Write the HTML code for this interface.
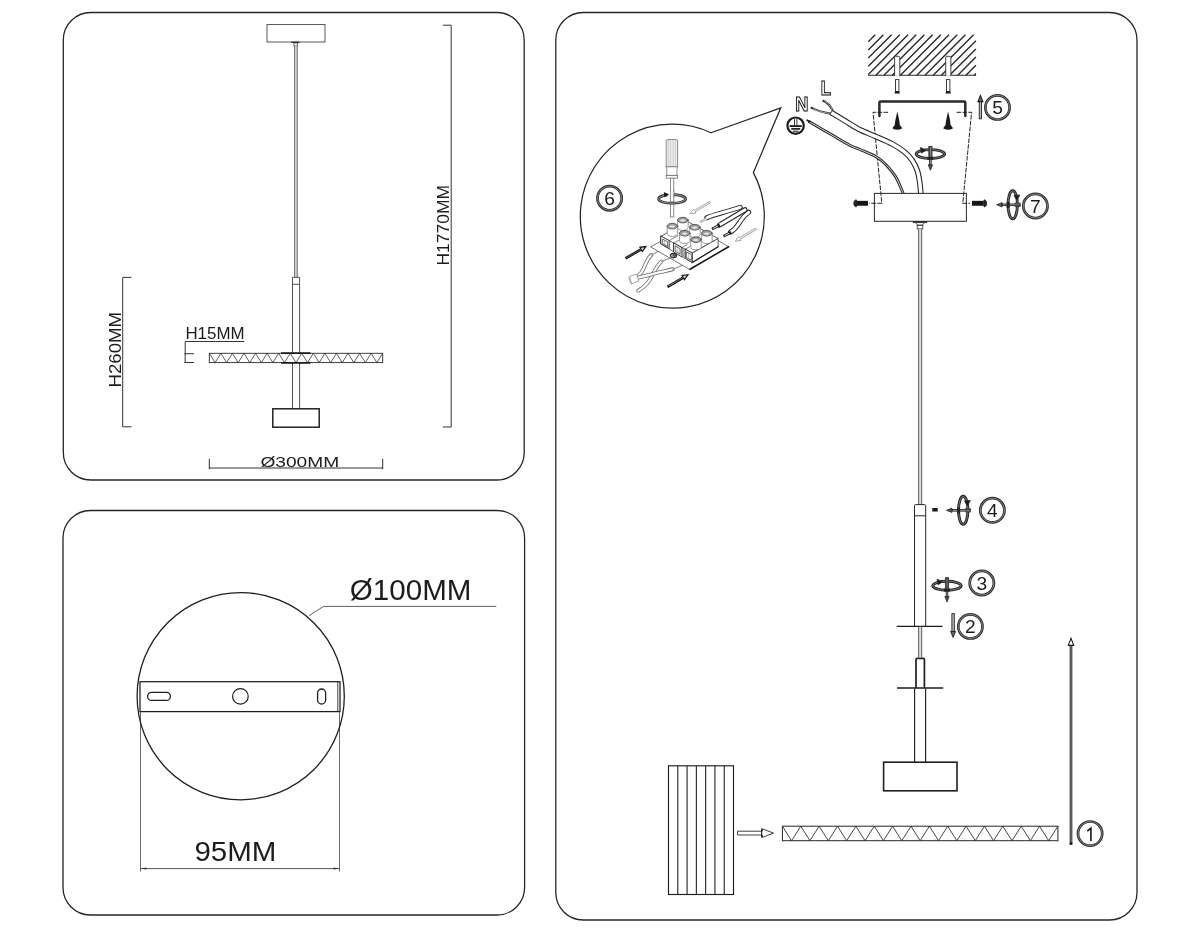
<!DOCTYPE html>
<html><head><meta charset="utf-8"><title>Installation diagram</title>
<style>
html,body{margin:0;padding:0;background:#fff;overflow:hidden}
svg{display:block;filter:grayscale(1)}
text{font-family:"Liberation Sans",sans-serif;fill:#1c1c1c}
</style></head>
<body>
<svg width="1200" height="933" viewBox="0 0 1200 933">
<rect width="1200" height="933" fill="#fff"/>
<g fill="none" stroke="#262626" stroke-width="1.3">
<rect x="63.3" y="12.5" width="460.9" height="467.5" rx="27.5" ry="27.5"/>
<rect x="63" y="510.5" width="461.6" height="404.5" rx="27.5" ry="27.5"/>
<rect x="555.8" y="12.5" width="581.2" height="907.5" rx="27.5" ry="27.5"/>
</g>
<g id="lt" fill="none" stroke="#2a2a2a" stroke-width="0.95">
<rect x="267" y="24.6" width="58" height="17.4" stroke="#3a3a3a" stroke-width="0.85"/>
<path d="M291.3 42.3H299.7" stroke="#222" stroke-width="1.2"/>
<rect x="293.9" y="43" width="3.4" height="3" stroke-width="0.7"/>
<rect x="294.7" y="46" width="2.5" height="231.3" fill="#e6e6e6" stroke="none"/><path d="M294.7 46V277.3M297.2 46V277.3" stroke="#444" stroke-width="0.85"/>
<path d="M292.5 277.3H299.6V408.8M292.5 277.3V408.8M292.5 284.3H299.6" stroke="#333" stroke-width="0.85"/>
<rect x="209.3" y="353.3" width="173.4" height="9.3" fill="#fff" stroke-width="0.9"/>
<path d="M209.3 353.3 L215.08 362.6 L220.86 353.3 L226.64 362.6 L232.42 353.3 L238.2 362.6 L243.98 353.3 L249.76 362.6 L255.54 353.3 L261.32 362.6 L267.1 353.3 L272.88 362.6 L278.66 353.3 L284.44 362.6 L290.22 353.3 L296 362.6 L301.78 353.3 L307.56 362.6 L313.34 353.3 L319.12 362.6 L324.9 353.3 L330.68 362.6 L336.46 353.3 L342.24 362.6 L348.02 353.3 L353.8 362.6 L359.58 353.3 L365.36 362.6 L371.14 353.3 L376.92 362.6 L382.7 353.3" stroke-width="0.75"/>
<path d="M281 353.1H310.5M281 362.9H310.5" stroke="#1c1c1c" stroke-width="1.7"/>
<rect x="272.8" y="408.8" width="46.4" height="18.4" stroke="#222" stroke-width="1.5"/>
<path d="M442.9 25.2H451.2V427H442.9" stroke="#333" stroke-width="1"/>
<path d="M131.4 277.4H122.7V426.8H131.4" stroke="#333" stroke-width="1"/>
<path d="M244.4 341.5H185.2V362.5M184.3 353.7H194M184.3 362.5H194" stroke="#333" stroke-width="1"/>
<path d="M209.3 458.7V469.3M382.7 458.7V469.3M209.3 468H382.7" stroke="#333" stroke-width="1"/>
</g>
<text x="260.4" y="466.7" font-size="15.4" textLength="78.8" lengthAdjust="spacingAndGlyphs">Ø300MM</text>
<text x="185.4" y="338.8" font-size="15.8" textLength="59.2" lengthAdjust="spacingAndGlyphs">H15MM</text>
<text transform="translate(121.4 387.4) rotate(-90)" font-size="16.6" textLength="75.4" lengthAdjust="spacingAndGlyphs">H260MM</text>
<text transform="translate(448.6 265.6) rotate(-90)" font-size="16.2" textLength="80.6" lengthAdjust="spacingAndGlyphs">H1770MM</text>
<g id="lb" fill="none" stroke="#2e2e2e" stroke-width="0.9">
<path d="M140.5 711.6V871.4M339.5 711.6V871.4" stroke="#444" stroke-width="0.8"/>
<circle cx="240.7" cy="696.2" r="103.6" stroke="#1f1f1f" stroke-width="1.3"/>
<rect x="140" y="681.7" width="200" height="29.9" fill="none" stroke="#1f1f1f" stroke-width="1.25"/>
<path d="M337.8 681.7V711.6" stroke-width="0.9"/>
<rect x="147.6" y="692.4" width="22.8" height="8" rx="4" ry="4" stroke="#1f1f1f" stroke-width="1.3"/>
<circle cx="240.4" cy="696.4" r="7.8" stroke="#1f1f1f" stroke-width="1.2"/>
<rect x="317.6" y="689" width="8" height="15" rx="4" ry="4" stroke="#1f1f1f" stroke-width="1.3"/>
<path d="M308.8 615.8L323.6 606.4H496.3" stroke="#444" stroke-width="0.85"/>
<path d="M141 868.6H339" stroke="#3a3a3a" stroke-width="0.85"/>
<path d="M140.8 868.6L146.5 867.6V869.6ZM339.2 868.6L333.5 867.6V869.6Z" fill="#333" stroke="none"/>
</g>
<text x="349.8" y="599.8" font-size="28.6" textLength="121.6" lengthAdjust="spacingAndGlyphs">Ø100MM</text>
<text x="194.4" y="861.3" font-size="28.4" textLength="82" lengthAdjust="spacingAndGlyphs">95MM</text>
<g id="rt" fill="none" stroke="#2e2e2e" stroke-width="0.9" stroke-linecap="butt">
<path d="M875.2 34.8L868.3 41.7M883.4 34.8L868.3 49.9M891.6 34.8L868.3 58.1M899.8 34.8L868.3 66.3M908 34.8L868.3 74.5M916.2 34.8L875.8 75.2M924.4 34.8L884 75.2M932.6 34.8L892.2 75.2M940.8 34.8L900.4 75.2M949 34.8L908.6 75.2M957.2 34.8L916.8 75.2M965.4 34.8L925 75.2M973.6 34.8L933.2 75.2M975.9 40.7L941.4 75.2M975.9 48.9L949.6 75.2M975.9 57.1L957.8 75.2M975.9 65.3L966 75.2M975.9 73.5L974.2 75.2" stroke="#262626" stroke-width="1.35"/>
<path d="M868 75.2H976" stroke="#262626" stroke-width="1.1"/>
<path d="M894.6 75.8V57.6Q894.6 56.3 895.6 56.3H898.8Q899.8 56.3 899.8 57.6V75.8Z" fill="#fff" stroke="#2a2a2a" stroke-width="0.9"/>
<path d="M895.1 76H899.3" stroke="#fff" stroke-width="1.6"/>
<path d="M945.7 75.8V57.6Q945.7 56.3 946.7 56.3H949.9Q950.9 56.3 950.9 57.6V75.8Z" fill="#fff" stroke="#2a2a2a" stroke-width="0.9"/>
<path d="M946.2 76H950.4" stroke="#fff" stroke-width="1.6"/>
<rect x="895.5" y="79.6" width="3.4" height="12" fill="#fff" stroke="#2a2a2a" stroke-width="0.9"/>
<path d="M895.2 91.2H899.2L900 93.6H894.4Z" fill="#1a1a1a" stroke="none"/>
<rect x="946.5" y="79.6" width="3.4" height="12" fill="#fff" stroke="#2a2a2a" stroke-width="0.9"/>
<path d="M946.2 91.2H950.2L951 93.6H945.4Z" fill="#1a1a1a" stroke="none"/>
<path d="M879.4 116V102.6Q879.4 101.5 880.5 101.5H964.2Q965.3 101.5 965.3 102.6V116" stroke="#2a2a2a" stroke-width="2.5" stroke-linecap="round"/>
<path d="M888 112.3H873L881.8 203.2" stroke="#222" stroke-width="1" stroke-dasharray="4.6 1.3"/>
<path d="M956.6 112.3H971.6L962.8 203.2" stroke="#222" stroke-width="1" stroke-dasharray="4.6 1.3"/>
<path d="M897.3 111.6C896.4 116.1 895 120.6 894.8 124.92L892.3 128.2Q897.3 131.4 902.3 128.2L899.8 124.92C899.6 120.6 898.2 116.1 897.3 111.6Z" fill="#1a1a1a" stroke="none"/>
<path d="M948.1 111.6C947.2 116.1 945.8 120.6 945.6 124.92L943.1 128.2Q948.1 131.4 953.1 128.2L950.6 124.92C950.4 120.6 949 116.1 948.1 111.6Z" fill="#1a1a1a" stroke="none"/>
<path d="M808.6 121.3C812.17 123.38 823.15 129.82 830 133.8C836.85 137.78 844.7 142.58 849.7 145.2C854.7 147.82 855.6 147.57 860 149.5C864.4 151.43 871.68 154.18 876.1 156.8C880.52 159.42 883.28 161.93 886.5 165.2C889.72 168.47 893.12 172.92 895.4 176.4C897.68 179.88 898.92 183.28 900.2 186.1C901.48 188.92 902.62 192.1 903.1 193.3" stroke="#262626" stroke-width="2.9"/>
<path d="M808.6 121.3C812.17 123.38 823.15 129.82 830 133.8C836.85 137.78 844.7 142.58 849.7 145.2C854.7 147.82 855.6 147.57 860 149.5C864.4 151.43 871.68 154.18 876.1 156.8C880.52 159.42 883.28 161.93 886.5 165.2C889.72 168.47 893.12 172.92 895.4 176.4C897.68 179.88 898.92 183.28 900.2 186.1C901.48 188.92 902.62 192.1 903.1 193.3" stroke="#efefef" stroke-width="0.9"/>
<path d="M806.6 119.8L810 122" stroke="#1a1a1a" stroke-width="1.6"/>
<path d="M831.2 112.5C833.6 113.95 840.8 118.32 845.6 121.2C850.4 124.08 854.92 127.23 860 129.8C865.08 132.37 870.73 134.25 876.1 136.6C881.47 138.95 887.38 141.28 892.2 143.9C897.02 146.52 901.65 149.55 905 152.3C908.35 155.05 910.28 157.45 912.3 160.4C914.32 163.35 915.88 166.52 917.1 170C918.32 173.48 918.98 177.42 919.6 181.3C920.22 185.18 920.6 191.3 920.8 193.3" stroke="#222" stroke-width="5.6"/>
<path d="M831.2 112.5C833.6 113.95 840.8 118.32 845.6 121.2C850.4 124.08 854.92 127.23 860 129.8C865.08 132.37 870.73 134.25 876.1 136.6C881.47 138.95 887.38 141.28 892.2 143.9C897.02 146.52 901.65 149.55 905 152.3C908.35 155.05 910.28 157.45 912.3 160.4C914.32 163.35 915.88 166.52 917.1 170C918.32 173.48 918.98 177.42 919.6 181.3C920.22 185.18 920.6 191.3 920.8 193.3" stroke="#fff" stroke-width="3.5"/>
<path d="M832.6 110.4C830.5 106 828.5 103 822.6 100.6" stroke="#2a2a2a" stroke-width="2.2"/>
<path d="M832.6 110.4C830.5 106 828.5 103 824.6 101.4" stroke="#ddd" stroke-width="0.7"/>
<path d="M830.6 113.6C824 112.6 818 111.5 810.8 107.4" stroke="#2a2a2a" stroke-width="2.2"/>
<path d="M830.6 113.6C824 112.6 818 111.5 813 108.6" stroke="#ddd" stroke-width="0.7"/>
<path d="M829.6 114.4L833.2 109.6" stroke="#2a2a2a" stroke-width="0.9"/>
<ellipse cx="930.4" cy="154" rx="14.2" ry="4.4" fill="none" stroke="#222" stroke-width="2.9"/><ellipse cx="930.4" cy="154" rx="14.2" ry="4.4" fill="none" stroke="#b4b4b4" stroke-width="0.6"/><rect x="928.8" y="146.6" width="3.2" height="9.6" fill="#fff"/><path d="M925.7 150.3L920.5 147.5L921.5 153.1Z" fill="#1a1a1a"/><rect x="929.55" y="146.6" width="1.7" height="18.2" fill="#999" stroke="#222" stroke-width="0.8"/><path d="M927.4 158.2A14.2 4.4 0 0 0 933.4 158.2" fill="none" stroke="#222" stroke-width="2.9"/><path d="M928.2 164.8H932.6L930.4 170.3Z" fill="#555" stroke="#1a1a1a" stroke-width="0.7"/>
<rect x="874.4" y="193.4" width="92" height="27.9" fill="none" stroke="#303030" stroke-width="1.05"/>
<path d="M882.4 203.3H869.4M962.2 203.3H970" stroke="#222" stroke-width="1.1" stroke-dasharray="5 1.2"/>
<path d="M856.4 203.3H868" stroke="#161616" stroke-width="4.9"/>
<path d="M853.9 203.3C853.9 200.6 855 199.9 856.4 199.9V206.8C855 206.8 853.9 206 853.9 203.3Z" fill="#2a2a2a" stroke="#161616" stroke-width="0.9"/>
<path d="M972 203.3H983.8" stroke="#161616" stroke-width="4.9"/>
<path d="M986.5 203.3C986.5 200.6 985.4 199.9 984 199.9V206.8C985.4 206.8 986.5 206 986.5 203.3Z" fill="#2a2a2a" stroke="#161616" stroke-width="0.9"/>
<path d="M912.8 222.1H927.2" stroke="#1a1a1a" stroke-width="1.5"/>
<path d="M915.2 222.6C916.6 223 917 224 917.2 225.2H922.8C923 224 923.4 223 924.8 222.6" stroke-width="0.8"/>
<rect x="917.2" y="225.2" width="5.6" height="3.6" stroke-width="0.8"/>
<rect x="918.6" y="228.8" width="3.1" height="275.8" fill="#dcdcdc" stroke="none"/>
<path d="M918.6 228.8V504.6M921.7 228.8V504.6" stroke="#3a3a3a" stroke-width="0.8"/>
<path d="M914.5 626.2V505.6Q914.5 504.6 915.5 504.6H924.7Q925.7 504.6 925.7 505.6V626.2M914.5 515.8H925.7" stroke="#262626" stroke-width="1"/>
<rect x="932.3" y="508" width="5.4" height="3.5" fill="#1a1a1a" stroke="none"/>
<path d="M896.7 626.3H942.5" stroke="#1c1c1c" stroke-width="1.35"/>
<rect x="918.6" y="626.8" width="3.1" height="30" fill="#dcdcdc" stroke="none"/>
<path d="M918.6 626.8V657M921.7 626.8V657" stroke="#3a3a3a" stroke-width="0.8"/>
<path d="M916 688V659.6Q916 658.4 917.2 658.4H923.2Q924.4 658.4 924.4 659.6V688" stroke="#1f1f1f" stroke-width="1.7"/>
<path d="M897 688.1H943.2" stroke="#1c1c1c" stroke-width="1.5"/>
<path d="M914.6 688.5V762M925.6 688.5V762" stroke="#222" stroke-width="1.15"/>
<rect x="883.6" y="762.2" width="73.4" height="28.6" stroke="#1f1f1f" stroke-width="1.6"/>
<rect x="782.4" y="826.2" width="275.5" height="14.5" stroke="#262626" stroke-width="1"/>
<path d="M782.4 826.2 L791.58 840.7 L800.77 826.2 L809.95 840.7 L819.13 826.2 L828.32 840.7 L837.5 826.2 L846.68 840.7 L855.87 826.2 L865.05 840.7 L874.23 826.2 L883.42 840.7 L892.6 826.2 L901.78 840.7 L910.97 826.2 L920.15 840.7 L929.33 826.2 L938.52 840.7 L947.7 826.2 L956.88 840.7 L966.07 826.2 L975.25 840.7 L984.43 826.2 L993.62 840.7 L1002.8 826.2 L1011.98 840.7 L1021.17 826.2 L1030.35 840.7 L1039.53 826.2 L1048.72 840.7 L1057.9 826.2" stroke="#262626" stroke-width="0.85"/>
<rect x="668.5" y="765.8" width="65" height="128.7" stroke="#1f1f1f" stroke-width="1.15"/>
<path d="M677.79 765.8V894.5M687.07 765.8V894.5M696.36 765.8V894.5M705.64 765.8V894.5M714.93 765.8V894.5M724.22 765.8V894.5" stroke="#222" stroke-width="1.1"/>
<path d="M737.6 831.2H762.4V828.9L773.6 833.1L762.4 837.3V835H737.6Z" fill="#fff" stroke="#2a2a2a" stroke-width="0.9" stroke-linejoin="miter"/>
<path d="M761.6 828.4V837.8" stroke="#2a2a2a" stroke-width="1.2"/>
<path d="M1071 844.2V645" stroke="#4a4a4a" stroke-width="2.8"/>
<path d="M1071 843V645" stroke="#777" stroke-width="0.8"/>
<circle cx="1071" cy="843.6" r="1.5" fill="#1f1f1f" stroke="none"/>
<path d="M1071 638.4L1068.3 645.4H1073.7Z" fill="#fff" stroke="#1a1a1a" stroke-width="1.1" stroke-linejoin="miter"/>
<rect x="979.25" y="101.5" width="2.3" height="17.3" fill="#bbb" stroke="#1f1f1f" stroke-width="0.9"/><path d="M980.4 95.6L978 101.6H982.8Z" fill="#777" stroke="#1a1a1a" stroke-width="1.2" stroke-linejoin="miter"/>
<rect x="951.9" y="613.6" width="2.4" height="17.8" fill="#bbb" stroke="#1f1f1f" stroke-width="0.9"/><path d="M953.1 637.4L950.6 631.4H955.6Z" fill="#666" stroke="#1f1f1f" stroke-width="0.9"/>
<ellipse cx="1012.7" cy="204.8" rx="4.7" ry="14" fill="none" stroke="#222" stroke-width="2.9"/><ellipse cx="1012.7" cy="204.8" rx="4.7" ry="14" fill="none" stroke="#b4b4b4" stroke-width="0.6"/><rect x="1015.2" y="203.2" width="4.8" height="3.2" fill="#fff"/><path d="M1017 200.2L1014 195.6L1019.8 195Z" fill="#1a1a1a"/><rect x="1002.1" y="203.95" width="17.9" height="1.7" fill="#999" stroke="#222" stroke-width="0.8"/><path d="M1008.2 201.8A4.7 14 0 0 0 1008.2 207.8" fill="none" stroke="#222" stroke-width="2.9"/><path d="M1002.1 202.6V207L996.6 204.8Z" fill="#555" stroke="#1a1a1a" stroke-width="0.7"/>
<ellipse cx="963.2" cy="510.3" rx="4.7" ry="14" fill="none" stroke="#222" stroke-width="2.9"/><ellipse cx="963.2" cy="510.3" rx="4.7" ry="14" fill="none" stroke="#b4b4b4" stroke-width="0.6"/><rect x="965.7" y="508.7" width="4.5" height="3.2" fill="#fff"/><path d="M967.5 505.7L964.5 501.1L970.3 500.5Z" fill="#1a1a1a"/><rect x="952" y="509.45" width="18.2" height="1.7" fill="#999" stroke="#222" stroke-width="0.8"/><path d="M958.7 507.3A4.7 14 0 0 0 958.7 513.3" fill="none" stroke="#222" stroke-width="2.9"/><path d="M952 508.1V512.5L946.5 510.3Z" fill="#555" stroke="#1a1a1a" stroke-width="0.7"/>
<ellipse cx="947" cy="585.7" rx="14.2" ry="4.5" fill="none" stroke="#222" stroke-width="2.9"/><ellipse cx="947" cy="585.7" rx="14.2" ry="4.5" fill="none" stroke="#b4b4b4" stroke-width="0.6"/><rect x="945.4" y="577.9" width="3.2" height="10.1" fill="#fff"/><path d="M942.3 581.9L937.1 579.1L938.1 584.7Z" fill="#1a1a1a"/><rect x="946.15" y="577.9" width="1.7" height="18.6" fill="#999" stroke="#222" stroke-width="0.8"/><path d="M944 590A14.2 4.5 0 0 0 950 590" fill="none" stroke="#222" stroke-width="2.9"/><path d="M944.8 596.5H949.2L947 602Z" fill="#555" stroke="#1a1a1a" stroke-width="0.7"/>
</g>
<g><circle cx="997.5" cy="107.4" r="12.1" fill="#fff" stroke="#2a2a2a" stroke-width="2.7"/><circle cx="997.5" cy="107.4" r="12.1" fill="none" stroke="#aaa" stroke-width="0.7"/><text x="997.5" y="114.37" font-size="18.8" text-anchor="middle" textLength="10.7" lengthAdjust="spacingAndGlyphs">5</text></g>

<g><circle cx="1035.4" cy="206" r="12.1" fill="#fff" stroke="#2a2a2a" stroke-width="2.7"/><circle cx="1035.4" cy="206" r="12.1" fill="none" stroke="#aaa" stroke-width="0.7"/><text x="1035.4" y="212.97" font-size="18.8" text-anchor="middle" textLength="10.7" lengthAdjust="spacingAndGlyphs">7</text></g>

<g><circle cx="992.4" cy="510.3" r="12.1" fill="#fff" stroke="#2a2a2a" stroke-width="2.7"/><circle cx="992.4" cy="510.3" r="12.1" fill="none" stroke="#aaa" stroke-width="0.7"/><text x="992.4" y="517.27" font-size="18.8" text-anchor="middle" textLength="10.7" lengthAdjust="spacingAndGlyphs">4</text></g>

<g><circle cx="981.8" cy="583" r="12.1" fill="#fff" stroke="#2a2a2a" stroke-width="2.7"/><circle cx="981.8" cy="583" r="12.1" fill="none" stroke="#aaa" stroke-width="0.7"/><text x="981.8" y="589.97" font-size="18.8" text-anchor="middle" textLength="10.7" lengthAdjust="spacingAndGlyphs">3</text></g>

<g><circle cx="970.4" cy="626.4" r="12.1" fill="#fff" stroke="#2a2a2a" stroke-width="2.7"/><circle cx="970.4" cy="626.4" r="12.1" fill="none" stroke="#aaa" stroke-width="0.7"/><text x="970.4" y="633.37" font-size="18.8" text-anchor="middle" textLength="10.7" lengthAdjust="spacingAndGlyphs">2</text></g>

<g><circle cx="1090.1" cy="833.6" r="12.1" fill="#fff" stroke="#2a2a2a" stroke-width="2.7"/><circle cx="1090.1" cy="833.6" r="12.1" fill="none" stroke="#aaa" stroke-width="0.7"/><text x="1090.1" y="840.57" font-size="18.8" text-anchor="middle" textLength="10.7" lengthAdjust="spacingAndGlyphs"></text></g>

<path d="M1087.3 831L1090.9 828.2V840.9" fill="none" stroke="#1c1c1c" stroke-width="1.65" stroke-linejoin="miter"/>
<text x="820.7" y="94.9" font-size="20.2" font-weight="bold" fill="#fff" stroke="#000" stroke-width="0.95" textLength="10.4" lengthAdjust="spacingAndGlyphs" style="fill:#fff">L</text>
<text x="795.2" y="110.9" font-size="20.4" font-weight="bold" stroke="#000" stroke-width="0.95" textLength="13.2" lengthAdjust="spacingAndGlyphs" style="fill:#fff">N</text>
<g fill="none" stroke="#1c1c1c"><circle cx="795.6" cy="125.7" r="8.2" fill="#fff" stroke-width="2.2"/><path d="M794.5 119V125.4M796.9 119V125.4" stroke-width="0.9"/><path d="M789.6 126.1H801.8" stroke-width="1.9"/><path d="M791.2 128.9H800.2" stroke-width="1.7"/><path d="M792.8 131.4H798.6" stroke="#555" stroke-width="1.6"/></g>
<path d="M710.96 132.72L780.8 107.85L753.34 172.65A92 92 0 1 1 710.96 132.72Z" fill="none" stroke="#242424" stroke-width="1.25" stroke-linejoin="miter"/>
<g fill="none" stroke="#6e6e6e" stroke-width="0.8">
<rect x="670.4" y="178" width="3.4" height="39" fill="#fff"/>
<path d="M666.2 166.8V141.2Q666.2 139.5 668 139.5H675.8Q677.6 139.5 677.6 141.2V166.8Z" fill="#ececec"/>
<path d="M668.4 140V166.6M670.6 140V166.6M673.2 140V166.6M675.4 140V166.6" stroke="#c4c4c4" stroke-width="0.7"/>
<path d="M666.2 166.8H677.6L677 169.5V175.4H666.8V169.5Z" fill="#fff"/>
<rect x="666.2" y="175.4" width="11.4" height="2.7" fill="#fff"/>
</g>
<g fill="none">
<ellipse cx="672.1" cy="198.9" rx="13.5" ry="4.3" stroke="#262626" stroke-width="2.7"/>
<ellipse cx="672.1" cy="198.9" rx="13.5" ry="4.3" stroke="#c4c4c4" stroke-width="0.8"/>
<rect x="667.4" y="191" width="6.6" height="6.4" fill="#fff"/>
<path d="M670.4 190V198M673.8 190V198" stroke="#6e6e6e" stroke-width="0.8"/>
<path d="M669 194.6L663.8 191.9L664.4 197.2Z" fill="#1a1a1a"/>
</g>
<g><circle cx="609.6" cy="198.2" r="12.1" fill="#fff" stroke="#2a2a2a" stroke-width="2.7"/><circle cx="609.6" cy="198.2" r="12.1" fill="none" stroke="#aaa" stroke-width="0.7"/><text x="609.6" y="205.17" font-size="18.8" text-anchor="middle" textLength="10.7" lengthAdjust="spacingAndGlyphs">6</text></g>

<g transform="translate(615 190) scale(0.125)" fill="none" stroke-linecap="round" stroke-linejoin="round">
<path d="M290 520C262 545 245 590 228 630C215 662 198 678 180 690" stroke="#6a6a6a" stroke-width="31"/>
<path d="M290 520C262 545 245 590 228 630C215 662 198 678 180 690" stroke="#fff" stroke-width="18"/>
<path d="M372 572C345 590 320 640 300 680C275 735 240 775 185 805" stroke="#6a6a6a" stroke-width="31"/>
<path d="M372 572C345 590 320 640 300 680C275 735 240 775 185 805" stroke="#fff" stroke-width="18"/>
<path d="M462 634C400 650 340 660 290 675C250 686 220 692 185 700" stroke="#6a6a6a" stroke-width="31"/>
<path d="M462 634C400 650 340 660 290 675C250 686 220 692 185 700" stroke="#fff" stroke-width="18"/>
<path d="M118 690L172 672L190 728L136 750Z" fill="#fff" stroke="#8a8a8a" stroke-width="6"/>
<path d="M112 700C120 720 118 735 130 752" stroke="#8a8a8a" stroke-width="6"/>
<path d="M290 520L395 468M372 572L452 540M462 634L535 604" stroke="#777" stroke-width="9"/>
<path d="M290 520L395 468M372 572L452 540M462 634L535 604" stroke="#eee" stroke-width="3"/>
<path d="M735 222C790 195 880 180 1002 138" stroke="#222" stroke-width="40" stroke-linecap="round"/>
<path d="M835 281C900 243 975 197 1040 158" stroke="#222" stroke-width="40" stroke-linecap="round"/>
<path d="M925 336C975 310 990 262 1028 216C1046 196 1060 190 1069 178" stroke="#222" stroke-width="40" stroke-linecap="round"/>
<path d="M735 222C790 195 880 180 1002 138" stroke="#fff" stroke-width="24" stroke-linecap="round"/>
<path d="M835 281C900 243 975 197 1040 158" stroke="#fff" stroke-width="24" stroke-linecap="round"/>
<path d="M925 336C975 310 990 262 1028 216C1046 196 1060 190 1069 178" stroke="#fff" stroke-width="24" stroke-linecap="round"/>
<path d="M684 256L736 227" stroke="#8a8a8a" stroke-width="18" stroke-linecap="butt"/><path d="M689 253L738 226" stroke="#fff" stroke-width="8" stroke-linecap="butt"/>
<path d="M776 312L836 282" stroke="#1f1f1f" stroke-width="21" stroke-linecap="butt"/><path d="M784 308L824 288" stroke="#fff" stroke-width="7" stroke-linecap="butt"/>
<path d="M868 370L926 340" stroke="#1f1f1f" stroke-width="21" stroke-linecap="butt"/><path d="M876 366L914 346" stroke="#fff" stroke-width="7" stroke-linecap="butt"/>
<path d="M826 274L842 296M916 332L932 352" stroke="#1a1a1a" stroke-width="12" stroke-linecap="butt"/>
<path d="M91 550.19L211.92 480.23L218.43 491.48L247 453L199.4 458.59L205.91 469.84L85 539.81Z" fill="#d8d8d8" stroke="#111" stroke-width="9.5" stroke-linejoin="miter"/>
<path d="M427.04 777.17L549.1 705.46L555.69 716.67L584 678L536.44 683.91L543.02 695.11L420.96 766.83Z" fill="#d8d8d8" stroke="#111" stroke-width="9.5" stroke-linejoin="miter"/>
<path d="M753.77 94.36L633.2 163.47L627.49 153.5L600 190L645.39 184.73L639.67 174.75L760.23 105.64Z" fill="#fff" stroke="#858585" stroke-width="6" stroke-linejoin="miter"/>
<path d="M1121.65 306.43L994.65 382.79L988.72 372.93L962 410L1007.27 403.79L1001.34 393.93L1128.35 317.57Z" fill="#fff" stroke="#858585" stroke-width="6" stroke-linejoin="miter"/>
</g>
<g transform="translate(645 210) scale(0.075)" fill="#fff" stroke="#2a2a2a" stroke-width="10" stroke-linejoin="round" stroke-linecap="round">
<path d="M80 490L600 190L1115 490L600 790Z" stroke="#333" stroke-width="9"/>
<path d="M600 790L1115 490" stroke="#1a1a1a" stroke-width="20" fill="none"/>
<path d="M215 350L560 150L975 380L630 575Z"/>
<path d="M215 350L630 575V700L215 455Z"/>
<path d="M630 575L975 380V490L630 700Z"/>
<path d="M630 700L975 490" stroke="#1a1a1a" stroke-width="16" fill="none"/>
<path d="M322 410L385 444V556L322 514Z" fill="#fff" stroke="#555" stroke-width="7"/>
<path d="M492 504L540 524V648L492 624Z" fill="#dcdcdc" stroke="#555" stroke-width="7"/>
<path d="M516 516V636" stroke="#999" stroke-width="12" fill="none"/>
<path d="M215 348L322 408V514L215 452Z" stroke="#222" stroke-width="11"/>
<path d="M385 442L492 502V626L385 562Z" stroke="#222" stroke-width="11"/>
<path d="M540 522L630 575V700L540 648Z" stroke="#222" stroke-width="11"/>
<path d="M322 408L440 340M385 442L470 392M492 502L560 462M540 522L600 486" fill="none" stroke="#333" stroke-width="8"/>
<path d="M240 390L300 424V486L240 452Z" stroke="#222" stroke-width="9"/><path d="M262 404V464L300 486" fill="none" stroke="#666" stroke-width="6"/>
<path d="M406 480L468 516V588L406 552Z" stroke="#222" stroke-width="9"/><path d="M428 494V564L468 588" fill="none" stroke="#666" stroke-width="6"/>
<path d="M556 560L618 596V670L556 636Z" stroke="#222" stroke-width="9"/><path d="M578 574V648L618 670" fill="none" stroke="#666" stroke-width="6"/>
<ellipse cx="380" cy="608" rx="42" ry="30" fill="#bbb" stroke="#2a2a2a" stroke-width="14"/><ellipse cx="388" cy="606" rx="18" ry="14" fill="#777" stroke="#333" stroke-width="8"/>
<path d="M435 135V235A70 37 0 0 0 575 235V135Z" fill="#fff" stroke="#6a6a6a" stroke-width="9"/><ellipse cx="505" cy="135" rx="70" ry="37" fill="#a8a8a8" stroke="#4a4a4a" stroke-width="12"/><ellipse cx="505" cy="140" rx="46" ry="22" fill="#e4e4e4" stroke="#777" stroke-width="8"/>
<path d="M295 215V315A70 37 0 0 0 435 315V215Z" fill="#fff" stroke="#6a6a6a" stroke-width="9"/><ellipse cx="365" cy="215" rx="70" ry="37" fill="#a8a8a8" stroke="#4a4a4a" stroke-width="12"/><ellipse cx="365" cy="220" rx="46" ry="22" fill="#e4e4e4" stroke="#777" stroke-width="8"/>
<path d="M595 230V330A70 37 0 0 0 735 330V230Z" fill="#fff" stroke="#6a6a6a" stroke-width="9"/><ellipse cx="665" cy="230" rx="70" ry="37" fill="#a8a8a8" stroke="#4a4a4a" stroke-width="12"/><ellipse cx="665" cy="235" rx="46" ry="22" fill="#e4e4e4" stroke="#777" stroke-width="8"/>
<path d="M755 310V410A70 37 0 0 0 895 410V310Z" fill="#fff" stroke="#6a6a6a" stroke-width="9"/><ellipse cx="825" cy="310" rx="70" ry="37" fill="#a8a8a8" stroke="#4a4a4a" stroke-width="12"/><ellipse cx="825" cy="315" rx="46" ry="22" fill="#e4e4e4" stroke="#777" stroke-width="8"/>
<path d="M460 310V410A70 37 0 0 0 600 410V310Z" fill="#fff" stroke="#6a6a6a" stroke-width="9"/><ellipse cx="530" cy="310" rx="70" ry="37" fill="#a8a8a8" stroke="#4a4a4a" stroke-width="12"/><ellipse cx="530" cy="315" rx="46" ry="22" fill="#e4e4e4" stroke="#777" stroke-width="8"/>
<path d="M610 395V495A70 37 0 0 0 750 495V395Z" fill="#fff" stroke="#6a6a6a" stroke-width="9"/><ellipse cx="680" cy="395" rx="70" ry="37" fill="#a8a8a8" stroke="#4a4a4a" stroke-width="12"/><ellipse cx="680" cy="400" rx="46" ry="22" fill="#e4e4e4" stroke="#777" stroke-width="8"/>
</g>
</svg>
</body></html>
